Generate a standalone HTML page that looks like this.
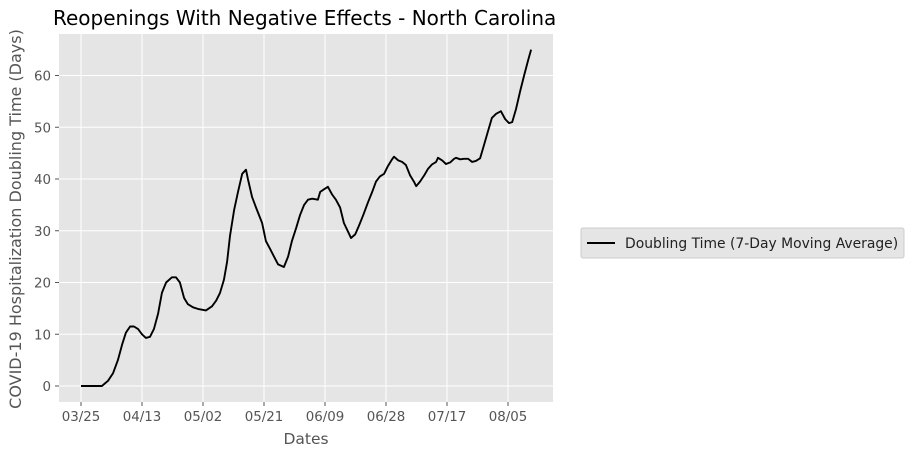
<!DOCTYPE html>
<html><head><meta charset="utf-8"><style>
body{margin:0;background:#fff;width:914px;height:457px;overflow:hidden;font-family:"Liberation Sans","DejaVu Sans",sans-serif}
</style></head><body>
<svg id="chart" width="914" height="457" xmlns="http://www.w3.org/2000/svg" font-family="DejaVu Sans, Liberation Sans, sans-serif">
<rect x="59" y="34" width="494" height="368" fill="#e5e5e5"/>
<g id="grid"></g>
<g id="axes"></g>
<path id="line" fill="none" stroke="#000" stroke-width="1.9" stroke-linejoin="round"/>
<text x="53" y="25" font-size="20" fill="#000">Reopenings With Negative Effects - North Carolina</text>
<text x="306" y="444" font-size="15.5" fill="#555" text-anchor="middle">Dates</text>
<text transform="translate(21,219) rotate(-90)" font-size="16" fill="#555" text-anchor="middle">COVID-19 Hospitalization Doubling Time (Days)</text>
<g>
<rect x="581" y="228" width="323" height="30" fill="#e5e5e5" stroke="#ccc" rx="2"/>
<line x1="587" y1="243" x2="615" y2="243" stroke="#000" stroke-width="1.9"/>
<text x="625" y="248" font-size="13.9" fill="#222">Doubling Time (7-Day Moving Average)</text>
</g>
</svg>
<script>
const days=[0,6.5,8.4,10,11.5,12.8,14,15.3,16.5,17.8,19,20.2,21.5,22.7,24,25.2,26.5,28.3,29.6,30.8,32.1,33.3,34.9,36.4,38.9,40.8,42.1,43.3,44.5,45.5,46.4,47.7,48.9,50.2,51.4,52,53.3,54.5,56.4,57.6,58.9,60.1,61.4,63.2,64.5,65.7,67,68.2,69.5,70.7,72,73.8,74.5,75.7,76.9,78.2,79.4,80.7,81.9,83.2,84.1,85.4,86.6,87.9,89.4,90.7,91.9,93.1,94.4,95.6,96.9,97.5,98.8,100,101.2,102.5,103.7,104.4,105.6,106.9,108.1,109.3,110.6,111.2,112.5,113.7,115,116.2,116.8,118.1,119.3,120.6,121.8,123,124.3,125.5,126.8,128,129.3,130.8,132.1,133.3,134.3,135.5,136.8,138,139.3,140.2];
const values=[0,0,1,2.5,5,8,10.3,11.5,11.5,11,10,9.3,9.5,11,14,18,20,21,21,20,17,15.8,15.2,14.9,14.6,15.4,16.5,18,20.5,24,29,34,37.5,41,41.8,40,36.5,34.5,31.5,28,26.5,25,23.5,23,25,28,30.5,33,35,36,36.2,36,37.5,38,38.5,37,36,34.5,31.5,29.8,28.6,29.3,31,33,35.5,37.5,39.5,40.5,41,42.5,43.8,44.3,43.6,43.3,42.7,40.7,39.5,38.6,39.5,40.7,42,42.8,43.3,44.1,43.6,42.9,43.2,43.9,44.1,43.8,43.9,43.9,43.3,43.5,44,46.5,49.3,51.8,52.6,53.1,51.6,50.8,51,53.5,57,60,63,65];
const xTicks=[0,19,38,57,76,95,114,133];
const xTickLabels=["03/25","04/13","05/02","05/21","06/09","06/28","07/17","08/05"];
const yTicks=[0,10,20,30,40,50,60];
const NS="http://www.w3.org/2000/svg";
const X=d=>81+d*61/19;
const Y=v=>386-v*(386-75.5)/60;
const grid=document.getElementById('grid'),axes=document.getElementById('axes');
function mk(t,a,p){const e=document.createElementNS(NS,t);for(const k in a)e.setAttribute(k,a[k]);p.appendChild(e);return e;}
yTicks.forEach(v=>{
 const g=mk('line',{x1:59,x2:553,y1:Y(v),y2:Y(v),stroke:'#fff','stroke-width':1},grid);
 
 
 const tk=mk('line',{x1:55,x2:59,y1:Y(v),y2:Y(v),stroke:'#555'},axes);
 
 
 const t=mk('text',{x:51,y:Y(v)+5,'font-size':13.4,fill:'#555','text-anchor':'end'},axes);
 
 
 t.textContent=v;
});
xTicks.forEach((d,i)=>{
 const g=mk('line',{x1:X(d),x2:X(d),y1:34,y2:402,stroke:'#fff','stroke-width':1},grid);
 
 
 const tk=mk('line',{x1:X(d),x2:X(d),y1:402,y2:406,stroke:'#555'},axes);
 
 
 const t=mk('text',{x:X(d),y:421,'font-size':13.4,fill:'#555','text-anchor':'middle'},axes);
 
 
 t.textContent=xTickLabels[i];
});
document.getElementById('line').setAttribute('d',days.map((d,i)=>(i?'L':'M')+X(d).toFixed(1)+','+Y(values[i]).toFixed(1)).join(''));
</script>
</body></html>
